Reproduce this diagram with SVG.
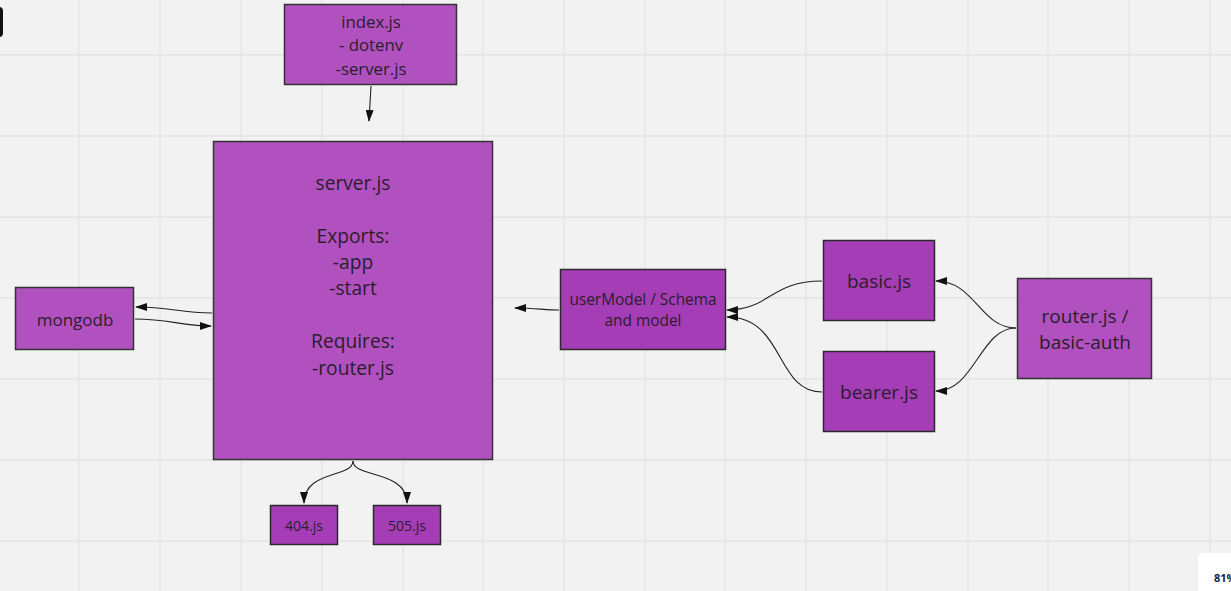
<svg xmlns="http://www.w3.org/2000/svg" width="1231" height="591" viewBox="0 0 1231 591">
<defs>
<style>
.g{stroke:#e4e4e4;stroke-width:1.3}
.a{fill:#b051bf;stroke:#333;stroke-width:1.5}
.b{fill:#a43db6;stroke:#2a2a2a;stroke-width:1.5}
text{font-family:"Open Sans","Noto Sans","DejaVu Sans",sans-serif;fill:#2b1d2d;text-anchor:middle}
.c{fill:none;stroke:#222;stroke-width:1.1;marker-end:url(#ah)}
</style>
<marker id="ah" viewBox="0 0 12 8" refX="11" refY="4" markerWidth="12" markerHeight="8" markerUnits="userSpaceOnUse" orient="auto">
<path d="M0,0 L12,4 L0,8 Z" fill="#111"/>
</marker>
</defs>
<rect width="1231" height="591" fill="#f2f2f2"/>
<g id="grid">
<path class="g" d="M79,0V591M160,0V591M241,0V591M322,0V591M403,0V591M483,0V591M564,0V591M645,0V591M725,0V591M806,0V591M887,0V591M968,0V591M1048,0V591M1129,0V591M1210,0V591"/>
<path class="g" d="M0,55H1231M0,136H1231M0,217H1231M0,298H1231M0,379H1231M0,460H1231M0,541H1231"/>
</g>
<rect x="-10" y="7" width="13" height="30" rx="4" fill="#111"/>
<g id="connectors">
<path class="c" d="M371,86 L369,121"/>
<path class="c" d="M212,313 C180,313 170,307 136,307"/>
<path class="c" d="M135,319 C170,319 180,326 211,326"/>
<path class="c" d="M559,310 C545,310 535,308 515,308"/>
<path class="c" d="M822,281 C770,281 770,310 727,310"/>
<path class="c" d="M822,392 C775,392 785,317 727,317"/>
<path class="c" d="M1016,328 C980,328 975,281 936,281"/>
<path class="c" d="M1016,328 C980,328 975,391 936,391"/>
<path class="c" d="M353,461 C353,478 304,470 304,503"/>
<path class="c" d="M353,461 C353,478 407,470 407,503"/>
</g>
<g id="index">
<rect class="a" x="284.5" y="4.5" width="172" height="80"/>
<text x="371" y="28" font-size="16.8">index.js</text>
<text x="371" y="51" font-size="16.8">- dotenv</text>
<text x="371" y="75" font-size="16.8">-server.js</text>
</g>
<g id="server">
<rect class="a" x="213.5" y="141.5" width="279" height="318"/>
<text x="353" y="190" font-size="19.2">server.js</text>
<text x="353" y="243" font-size="19.2">Exports:</text>
<text x="353" y="269" font-size="19.2">-app</text>
<text x="353" y="295" font-size="19.2">-start</text>
<text x="353" y="348" font-size="19.2">Requires:</text>
<text x="353" y="375" font-size="19.2">-router.js</text>
</g>
<g id="mongodb">
<rect class="a" x="15.5" y="287.5" width="118" height="62"/>
<text x="75" y="326" font-size="17">mongodb</text>
</g>
<g id="userModel">
<rect class="b" x="560.5" y="269.5" width="165" height="80"/>
<text x="643" y="305" font-size="15.4">userModel / Schema</text>
<text x="643" y="326" font-size="15.4">and model</text>
</g>
<g id="basic">
<rect class="b" x="823.5" y="240.5" width="111" height="80"/>
<text x="879" y="288" font-size="19">basic.js</text>
</g>
<g id="bearer">
<rect class="b" x="823.5" y="351.5" width="111" height="80"/>
<text x="879" y="399" font-size="19">bearer.js</text>
</g>
<g id="router">
<rect class="a" x="1017.5" y="278.5" width="134" height="100"/>
<text x="1085" y="323" font-size="19">router.js /</text>
<text x="1085" y="349" font-size="19">basic-auth</text>
</g>
<g id="n404">
<rect class="b" x="270.5" y="505.5" width="67" height="39"/>
<text x="304" y="531" font-size="14">404.js</text>
</g>
<g id="n505">
<rect class="b" x="373.5" y="505.5" width="67" height="39"/>
<text x="407" y="531" font-size="14">505.js</text>
</g>
<rect x="1198" y="553" width="50" height="50" rx="5" fill="#fff"/>
<text x="1214" y="582" font-size="11" font-weight="bold" style="fill:#1b1b4b;text-anchor:start">81%</text>
</svg>
